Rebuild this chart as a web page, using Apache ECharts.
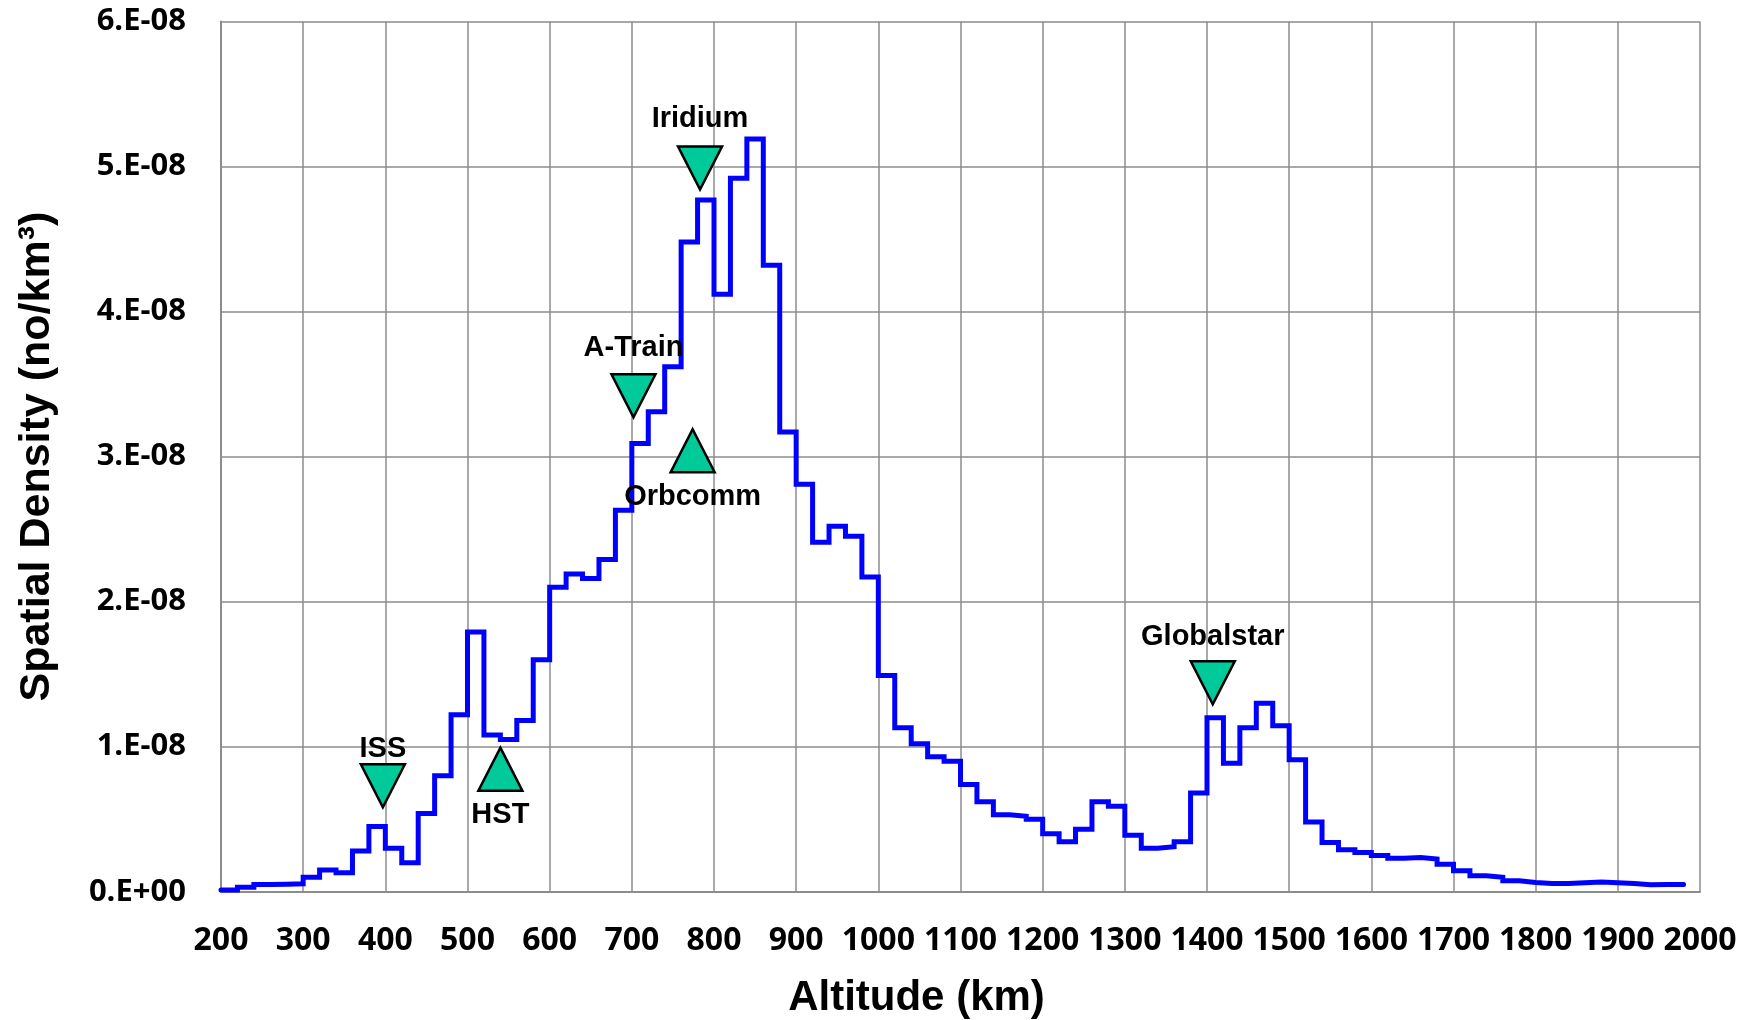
<!DOCTYPE html>
<html>
<head>
<meta charset="utf-8">
<script src="https://cdn.jsdelivr.net/npm/echarts@6/dist/echarts.min.js"></script>
<style>
html,body{margin:0;padding:0;background:#fff;}
#chart{width:1756px;height:1020px;}
</style>
</head>
<body>
<div id="chart"></div>
<script>
// Histogram bins (km)
const binStartKm = 200;
const binWidthKm = 20;
// Spatial density per 20-km bin, in units of 1e-8 objects/km^3
const density_1e8 = [
  0.012, 0.03, 0.05, 0.052, 0.055, 0.10, 0.15, 0.13, 0.28, 0.45,
  0.30, 0.20, 0.54, 0.80, 1.22, 1.79, 1.08, 1.05, 1.18, 1.60,
  2.10, 2.19, 2.16, 2.29, 2.63, 3.09, 3.31, 3.62, 4.48, 4.77,
  4.12, 4.92, 5.19, 4.32, 3.17, 2.81, 2.41, 2.52, 2.45, 2.17,
  1.49, 1.13, 1.02, 0.93, 0.90, 0.74, 0.62, 0.53, 0.52, 0.50,
  0.40, 0.345, 0.43, 0.62, 0.59, 0.39, 0.30, 0.31, 0.345, 0.68,
  1.20, 0.885, 1.13, 1.30, 1.145, 0.91, 0.48, 0.34, 0.29, 0.27,
  0.25, 0.23, 0.235, 0.225, 0.19, 0.145, 0.11, 0.10, 0.076, 0.064,
  0.057, 0.057, 0.062, 0.067, 0.062, 0.057, 0.048, 0.05, 0.05
];
// Annotated constellations
const markerNames = ['ISS', 'HST', 'A-Train', 'Orbcomm', 'Iridium', 'Globalstar'];
const markerAltKm = [397, 540, 702, 774, 783, 1407];
const markerLevel_1e8 = [0.73, 0.845, 3.42, 3.04, 4.99, 1.44];
const markerPointsDown = [true, false, true, false, true, true];
// Tick labels
const xTickMin = 200, xTickMax = 2000, xTickStep = 100;
const yTickMin = 0, yTickMax = 6, yTickStep = 1;

// label gaps (style)
const labelGap = [0, 9, 10, 9, 12, 9];

const lineData = density_1e8.map((v, i) => [binStartKm + i * binWidthKm, v]);
lineData.push([binStartKm + density_1e8.length * binWidthKm, density_1e8[density_1e8.length - 1]]);

const downTri = 'path://M0,0 L100,0 L50,98 Z';
const markerData = markerNames.map((n, i) => ({
  name: n,
  value: [markerAltKm[i], markerLevel_1e8[i]],
  symbol: markerPointsDown[i] ? downTri : 'triangle',
  label: {
    position: markerPointsDown[i] ? 'top' : 'bottom',
    distance: labelGap[i]
  }
}));

const chart = echarts.init(document.getElementById('chart'), null, {renderer: 'canvas'});
const gridColor = '#8c8c8c';
chart.setOption({
  backgroundColor: '#ffffff',
  animation: false,
  grid: {left: 221, right: 56, top: 21.5, bottom: 128.3, containLabel: false, outerBoundsMode: 'none'},
  xAxis: {
    type: 'value',
    min: xTickMin, max: xTickMax, interval: xTickStep,
    name: 'Altitude (km)',
    nameLocation: 'middle',
    nameGap: 86,
    nameTextStyle: {
      fontFamily: "'Liberation Sans', Arial, sans-serif",
      fontWeight: 'bold', fontSize: 42, color: '#000',
      padding: [0, 88, 0, 0]
    },
    axisLine: {show: true, lineStyle: {color: gridColor, width: 2}},
    axisTick: {show: false},
    axisLabel: {
      margin: 33,
      hideOverlap: false,
      showMinLabel: true,
      showMaxLabel: true,
      formatter: v => String(v),
      fontFamily: "'Open Sans', sans-serif",
      fontWeight: 'bold', fontSize: 32, color: '#000'
    },
    splitLine: {show: true, lineStyle: {color: gridColor, width: 1.5}}
  },
  yAxis: {
    type: 'value',
    min: yTickMin, max: yTickMax, interval: yTickStep,
    name: 'Spatial Density (no/km³)',
    nameLocation: 'middle',
    nameGap: 162,
    nameRotate: 90,
    nameTextStyle: {
      fontFamily: "'Liberation Sans', Arial, sans-serif",
      fontWeight: 'bold', fontSize: 43, color: '#000'
    },
    axisLine: {show: true, lineStyle: {color: gridColor, width: 2}},
    axisTick: {show: false},
    axisLabel: {
      margin: 35,
      fontFamily: "'Open Sans', sans-serif",
      fontWeight: 'bold', fontSize: 31, color: '#000',
      formatter: v => v === 0 ? '0.E+00' : v + '.E-08'
    },
    splitLine: {show: true, lineStyle: {color: gridColor, width: 1.5}}
  },
  series: [
    {
      type: 'line',
      data: lineData,
      step: 'end',
      showSymbol: false,
      symbol: 'none',
      lineStyle: {color: '#0000ff', width: 5, join: 'miter', cap: 'round'},
      z: 3
    },
    {
      type: 'scatter',
      data: markerData,
      symbolSize: [44, 43],
      itemStyle: {color: '#00c99a', borderColor: '#000', borderWidth: 2.5, opacity: 1},
      label: {
        show: true,
        formatter: p => p.name,
        fontFamily: "'Liberation Sans', Arial, sans-serif",
        fontWeight: 'bold', fontSize: 29, color: '#000000',
        textBorderWidth: 0, opacity: 1
      },
      emphasis: {disabled: true},
      z: 4
    }
  ]
});
</script>
</body>
</html>
